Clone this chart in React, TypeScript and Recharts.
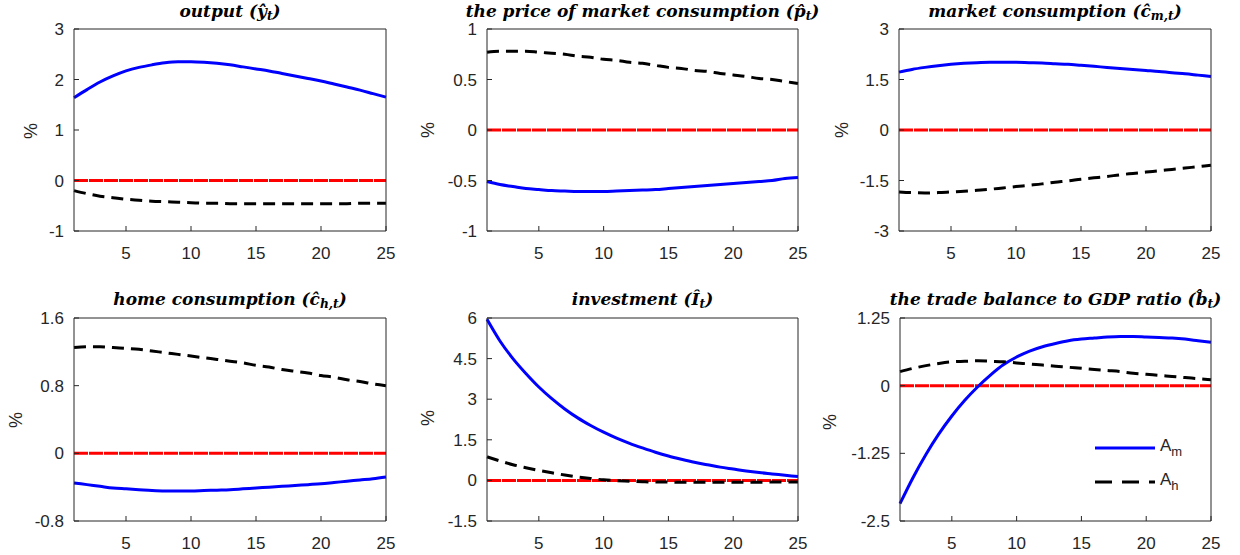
import React from 'react'
import { LineChart, Line, XAxis, YAxis, ReferenceLine } from 'recharts'

const periods = [1, 2, 3, 4, 5, 6, 7, 8, 9, 10, 11, 12, 13, 14, 15, 16, 17, 18, 19, 20, 21, 22, 23, 24, 25]
const xTicks = [5, 10, 15, 20, 25]
const seriesNames = ['A', 'A']
const seriesSubs = ['m', 'h']

// output
const outputAm = [1.64, 1.8, 1.95, 2.07, 2.17, 2.24, 2.29, 2.33, 2.35, 2.35, 2.34, 2.32, 2.29, 2.25, 2.21, 2.17, 2.12, 2.07, 2.02, 1.97, 1.91, 1.85, 1.79, 1.72, 1.65]
const outputAh = [-0.2, -0.26, -0.31, -0.34, -0.37, -0.39, -0.41, -0.42, -0.43, -0.44, -0.45, -0.45, -0.46, -0.46, -0.46, -0.46, -0.46, -0.46, -0.46, -0.46, -0.46, -0.46, -0.45, -0.45, -0.45]
const outputTicks = [-1, 0, 1, 2, 3]

// price of market consumption
const priceAm = [-0.51, -0.54, -0.56, -0.58, -0.59, -0.6, -0.605, -0.61, -0.61, -0.61, -0.605, -0.6, -0.595, -0.59, -0.58, -0.57, -0.56, -0.55, -0.54, -0.53, -0.52, -0.51, -0.5, -0.48, -0.47]
const priceAh = [0.77, 0.78, 0.78, 0.78, 0.77, 0.76, 0.75, 0.73, 0.72, 0.7, 0.69, 0.67, 0.66, 0.64, 0.62, 0.61, 0.59, 0.58, 0.56, 0.545, 0.53, 0.51, 0.5, 0.48, 0.46]
const priceTicks = [-1, -0.5, 0, 0.5, 1]

// market consumption
const marketAm = [1.72, 1.8, 1.86, 1.91, 1.95, 1.98, 2.0, 2.01, 2.01, 2.01, 2.0, 1.99, 1.97, 1.95, 1.92, 1.89, 1.86, 1.83, 1.8, 1.77, 1.74, 1.7, 1.67, 1.63, 1.59]
const marketAh = [-1.84, -1.86, -1.87, -1.86, -1.84, -1.82, -1.79, -1.76, -1.72, -1.68, -1.64, -1.6, -1.55, -1.51, -1.46, -1.42, -1.38, -1.33, -1.29, -1.25, -1.21, -1.17, -1.13, -1.09, -1.05]
const marketTicks = [-3, -1.5, 0, 1.5, 3]

// home consumption
const homeAm = [-0.35, -0.37, -0.39, -0.41, -0.42, -0.43, -0.44, -0.445, -0.445, -0.445, -0.44, -0.435, -0.43, -0.42, -0.41, -0.4, -0.39, -0.38, -0.37, -0.36, -0.345, -0.33, -0.315, -0.3, -0.28]
const homeAh = [1.25, 1.26, 1.26, 1.25, 1.24, 1.23, 1.21, 1.19, 1.17, 1.15, 1.13, 1.11, 1.09, 1.07, 1.04, 1.02, 0.99, 0.97, 0.95, 0.92, 0.9, 0.87, 0.85, 0.82, 0.8]
const homeTicks = [-0.8, 0, 0.8, 1.6]

// investment
const investAm = [5.95, 5.15, 4.5, 3.95, 3.45, 3.02, 2.64, 2.31, 2.03, 1.78, 1.56, 1.37, 1.2, 1.04, 0.9, 0.78, 0.67, 0.58, 0.49, 0.42, 0.35, 0.29, 0.24, 0.19, 0.14]
const investAh = [0.87, 0.72, 0.58, 0.47, 0.37, 0.28, 0.2, 0.13, 0.07, 0.02, -0.01, -0.03, -0.05, -0.06, -0.06, -0.07, -0.07, -0.07, -0.07, -0.07, -0.07, -0.07, -0.06, -0.06, -0.06]
const investTicks = [-1.5, 0, 1.5, 3, 4.5, 6]

// trade balance to GDP ratio
const tradeAm = [-2.18, -1.7, -1.27, -0.89, -0.56, -0.27, -0.02, 0.2, 0.39, 0.53, 0.64, 0.72, 0.78, 0.83, 0.86, 0.88, 0.9, 0.91, 0.91, 0.9, 0.89, 0.88, 0.86, 0.83, 0.8]
const tradeAh = [0.26, 0.32, 0.37, 0.41, 0.44, 0.45, 0.46, 0.45, 0.44, 0.42, 0.4, 0.38, 0.36, 0.34, 0.32, 0.3, 0.28, 0.26, 0.23, 0.21, 0.19, 0.17, 0.15, 0.13, 0.11]
const tradeTicks = [-2.5, -1.25, 0, 1.25]

const axisColor = '#262626'
const tickFont = { fontSize: 17, fontFamily: '"Liberation Sans", Arial, sans-serif', fill: axisColor }

const Sub = ({ children }: { children: React.ReactNode }) => (
  <span style={{ fontSize: '0.72em', verticalAlign: '-0.28em' }}>{children}</span>
)

// titleTop is the top of the title box (line height 17px)
const panels = [
  { title: <>output (ŷ<Sub>t</Sub>)</>, am: outputAm, ah: outputAh, ticks: outputTicks, box: [74, 29, 386, 231], titleTop: 3, pct: [31, 131] },
  { title: <>the price of market consumption (p̂<Sub>t</Sub>)</>, am: priceAm, ah: priceAh, ticks: priceTicks, box: [487, 29, 798, 231], titleTop: 3, pct: [428, 130] },
  { title: <>market consumption (ĉ<Sub>m,t</Sub>)</>, am: marketAm, ah: marketAh, ticks: marketTicks, box: [899, 29, 1211, 231], titleTop: 3, pct: [842, 130] },
  { title: <>home consumption (ĉ<Sub>h,t</Sub>)</>, am: homeAm, ah: homeAh, ticks: homeTicks, box: [74, 318, 386, 521], titleTop: 291, pct: [16, 420] },
  { title: <>investment (Î<Sub>t</Sub>)</>, am: investAm, ah: investAh, ticks: investTicks, box: [487, 318, 798, 521], titleTop: 291, pct: [428, 418] },
  { title: <>the trade balance to GDP ratio (b̂<Sub>t</Sub>)</>, am: tradeAm, ah: tradeAh, ticks: tradeTicks, box: [900, 318, 1211, 521], titleTop: 291, pct: [830, 422] },
]

const Panel = ({ p }: { p: typeof panels[number] }) => {
  const [x0, y0, x1, y1] = p.box
  const data = periods.map((t, i) => ({ t, am: p.am[i], ah: p.ah[i] }))
  const domain = [p.ticks[0], p.ticks[p.ticks.length - 1]]
  return (
    <>
      <div style={{ position: 'absolute', left: x0 - 60, top: y0 - 30 }}>
        <LineChart width={x1 - x0 + 70} height={y1 - y0 + 70} data={data} margin={{ top: 29, right: 9, bottom: 10, left: 0 }}>
          <XAxis dataKey="t" type="number" domain={[1, 25]} ticks={xTicks} interval={0} height={30}
            stroke={axisColor} tickSize={-5} tickMargin={21} tick={tickFont} />
          <XAxis xAxisId="top" orientation="top" type="number" domain={[1, 25]} ticks={xTicks} interval={0} height={1}
            stroke={axisColor} tickSize={-5} tick={false} />
          <YAxis type="number" domain={domain} ticks={p.ticks} interval={0} width={60}
            stroke={axisColor} tickSize={-5} tickMargin={15} tick={tickFont} />
          <YAxis yAxisId="right" orientation="right" type="number" domain={domain} ticks={p.ticks} interval={0} width={1}
            stroke={axisColor} tickSize={-5} tick={false} />
          <ReferenceLine y={0} stroke="#ff0000" strokeWidth={3} strokeDasharray="14 1" />
          <Line dataKey="am" type="monotone" stroke="#0000ff" strokeWidth={3} dot={false} isAnimationActive={false} />
          <Line dataKey="ah" type="monotone" stroke="#000000" strokeWidth={3} strokeDasharray="12 7" dot={false} isAnimationActive={false} />
        </LineChart>
      </div>
      <div style={{
        position: 'absolute', left: (x0 + x1) / 2, top: p.titleTop, transform: 'translateX(-50%)',
        whiteSpace: 'nowrap', fontFamily: '"DejaVu Serif", serif', fontStyle: 'italic', fontWeight: 'bold',
        fontSize: 17, lineHeight: '17px', color: '#000',
      }}>{p.title}</div>
      <div style={{
        position: 'absolute', left: p.pct[0], top: p.pct[1], transform: 'translate(-50%, -50%) rotate(-90deg)',
        fontFamily: '"Liberation Sans", Arial, sans-serif', fontSize: 18, color: axisColor, lineHeight: '18px',
      }}>%</div>
    </>
  )
}

const Legend6 = () => (
  <div style={{ position: 'absolute', left: 1090, top: 431 }}>
    {seriesNames.map((n, i) => (
      <div key={i} style={{ display: 'flex', alignItems: 'center', height: 34 }}>
        <svg width={70} height={10}>
          <line x1={5} x2={65} y1={5} y2={5} stroke={i === 0 ? '#0000ff' : '#000'} strokeWidth={3}
            strokeDasharray={i === 0 ? undefined : '17 10'} />
        </svg>
        <span style={{ fontFamily: '"Liberation Sans", Arial, sans-serif', fontSize: 17, color: axisColor }}>
          {n}<span style={{ fontSize: 13, verticalAlign: '-0.4em' }}>{seriesSubs[i]}</span>
        </span>
      </div>
    ))}
  </div>
)

export default function App() {
  return (
    <div style={{ position: 'absolute', left: 0, top: 0, width: 1240, height: 555, background: '#fff', overflow: 'hidden' }}>
      {panels.map((p, i) => <Panel key={i} p={p} />)}
      <Legend6 />
    </div>
  )
}
